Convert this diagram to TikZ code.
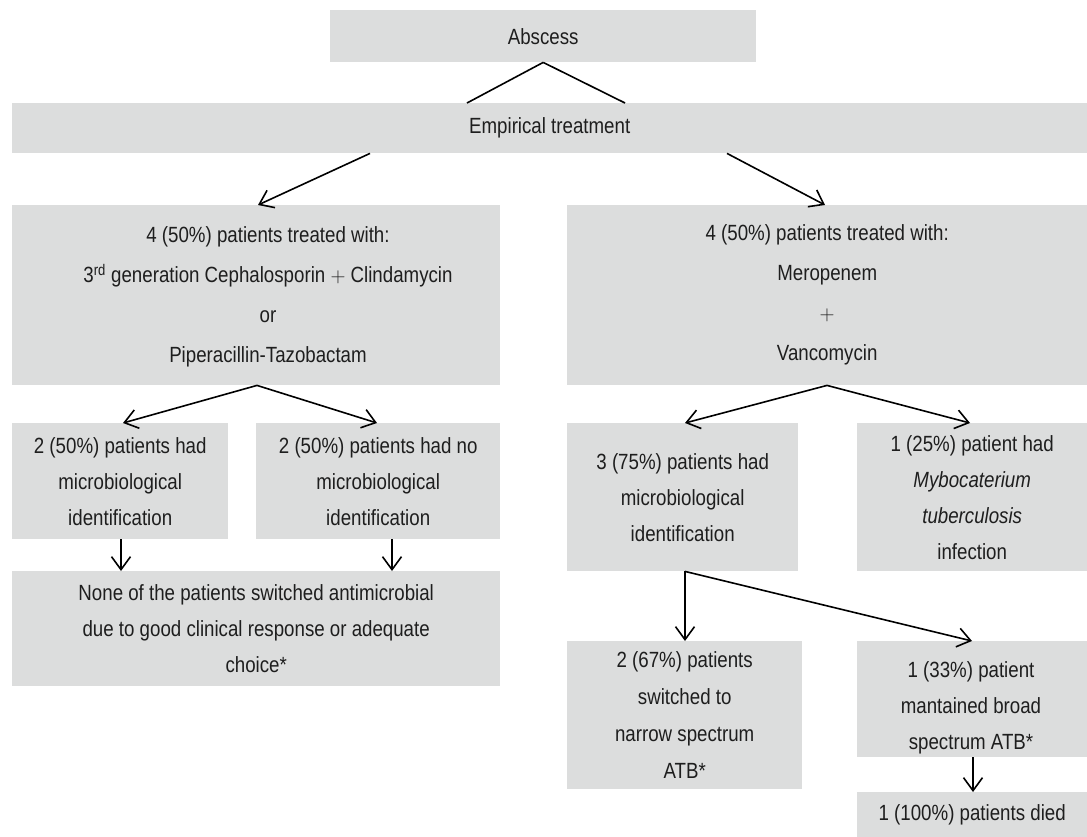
\documentclass[tikz,border=0pt]{standalone}
\usepackage{fontspec}
\setmainfont{Liberation Sans}[FakeStretch=0.85]
\usetikzlibrary{arrows.meta}
\definecolor{boxgray}{HTML}{DCDDDD}
\definecolor{txt}{HTML}{1E1E1E}
\tikzset{
  box/.style={fill=boxgray, draw=none, inner sep=0pt, anchor=north west, align=center,
    text=txt, font=\fontsize{22}{36}\selectfont},
  wide/.style={font=\fontsize{22}{40}\selectfont},
  conn/.style={line width=1.6pt, draw=black},
  arr/.style={conn, -{Straight Barb[length=13pt,width=19pt,line width=1.6pt]}}
}
\begin{document}
\begin{tikzpicture}[x=1pt,y=-1pt]
\useasboundingbox (0,0) rectangle (1087,836);
% boxes
\node[box, minimum width=426pt, minimum height=52pt] (abs) at (330,10) {Abscess};
\node[box, minimum width=1075pt, minimum height=50pt] (emp) at (12,103) {Empirical treatment};
\node[box, wide, minimum width=488pt, minimum height=180pt] (L) at (12,205) {};
\node[align=center, text=txt, font=\fontsize{22}{40}\selectfont, inner sep=0pt] (Ltext) at (268,297)
  {4 (50\%) patients treated with:\\3\textsuperscript{rd} generation Cephalosporin $+$ Clindamycin\\or\\Piperacillin-Tazobactam};
\node[box, wide, minimum width=520pt, minimum height=180pt] (R) at (567,205)
  {4 (50\%) patients treated with:\\Meropenem\\$+$\\Vancomycin};
\node[box, minimum width=216pt, minimum height=116pt] (La) at (12,423)
  {2 (50\%) patients had\\microbiological\\identification};
\node[box, minimum width=244pt, minimum height=116pt] (Lb) at (256,423)
  {2 (50\%) patients had no\\microbiological\\identification};
\node[box, minimum width=488pt, minimum height=115pt] (none) at (12,571)
  {None of the patients switched antimicrobial\\due to good clinical response or adequate\\choice*};
\node[box, minimum width=231pt, minimum height=148pt] (Ra) at (567,423)
  {3 (75\%) patients had\\microbiological\\identification};
\node[box, minimum width=230pt, minimum height=148pt] (Rb) at (857,423)
  {1 (25\%) patient had\\\textit{Mybocaterium}\\\textit{tuberculosis}\\infection};
\node[box, font=\fontsize{22}{37}\selectfont, minimum width=235pt, minimum height=148pt] (Raa) at (567,641)
  {2 (67\%) patients\\switched to\\narrow spectrum\\ATB*};
\node[box, minimum width=230pt, minimum height=116pt] (Rab) at (857,641) {};
\node[align=center, text=txt, font=\fontsize{22}{36}\selectfont, inner sep=0pt] (Rabtext) at (971,708)
  {1 (33\%) patient\\mantained broad\\spectrum ATB*};
\node[box, minimum width=230pt, minimum height=46pt] (die) at (857,792)
  {1 (100\%) patients died};
% connectors
\draw[conn] (abs.south) -- (emp.north -| 467,0);
\draw[conn] (abs.south) -- (emp.north -| 625,0);
\draw[arr] (emp.south -| 370,0) -- (L.north -| 258,0);
\draw[arr] (emp.south -| 727,0) -- (R.north -| 825,0);
\draw[arr] (L.south -| 257,0) -- (La.north -| 123,0);
\draw[arr] (L.south -| 257,0) -- (Lb.north -| 377,0);
\draw[arr] (La.south -| 121,0) -- (none.north -| 121,0);
\draw[arr] (Lb.south -| 392,0) -- (none.north -| 392,0);
\draw[arr] (R.south -| 827,0) -- (Ra.north -| 685,0);
\draw[arr] (R.south -| 827,0) -- (Rb.north -| 970,0);
\draw[arr] (Ra.south -| 685,0) -- (Raa.north -| 685,0);
\draw[arr] (Ra.south -| 685,0) -- (Rab.north -| 972,0);
\draw[arr] (Rab.south -| 973,0) -- (die.north -| 973,0);
\end{tikzpicture}
\end{document}
